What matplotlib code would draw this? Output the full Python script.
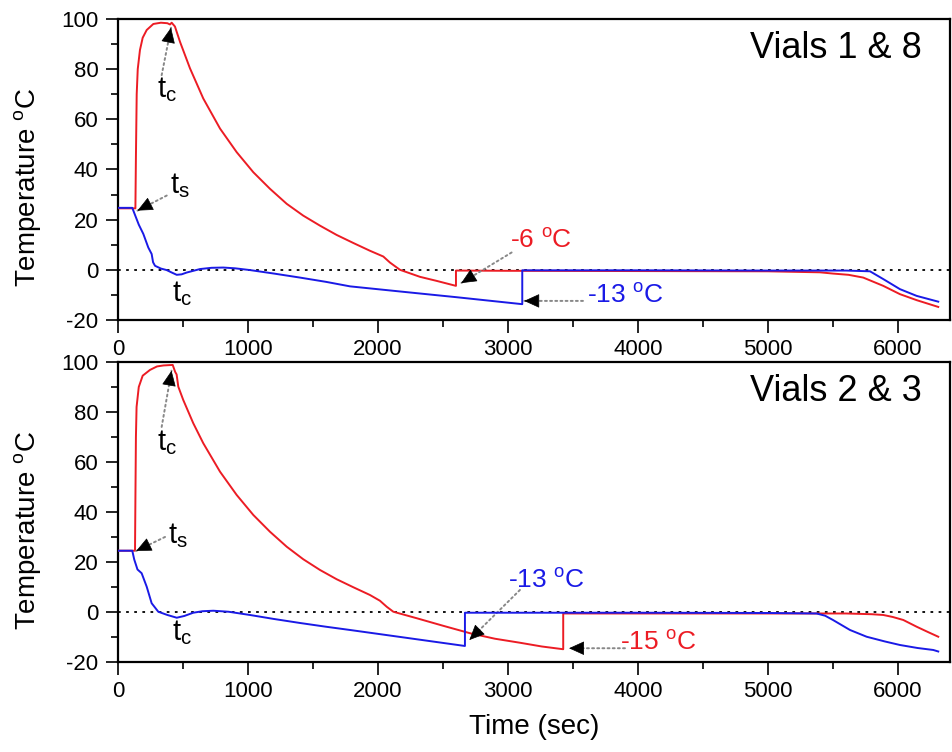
import matplotlib
matplotlib.use("Agg")
import numpy as np
import matplotlib.pyplot as plt
from matplotlib.ticker import MultipleLocator

plt.rcParams['font.family'] = ['Liberation Sans', 'DejaVu Sans']
plt.rcParams['axes.unicode_minus'] = False

# Vials 1 & 8
t_red_a = [0, 134, 138, 144, 152, 169, 190, 221, 272, 330, 380, 400, 413, 438, 477, 554, 656,
           785, 913, 1041, 1169, 1298, 1425, 1554, 1682, 1810, 1938, 2041, 2092, 2169, 2323,
           2450, 2600, 2600, 3000, 4000, 5000, 5400, 5500, 5620, 5733, 5887, 6015, 6144, 6310]
T_red_a = [24.5, 24.5, 45, 70, 80, 87.6, 92.5, 95.6, 98, 98.5, 98.3, 97.8, 98.5, 97, 90.9, 80.3, 68.3,
           56.3, 46.9, 38.9, 32.3, 26.3, 21.6, 17.6, 13.9, 10.7, 7.6, 5.3, 2.9, 0, -2.8,
           -4.4, -6.4, -0.3, -0.4, -0.5, -0.6, -1.0, -1.5, -2.0, -3.1, -6.4, -9.7, -12.1, -14.8]
t_blue_a = [0, 110, 130, 160, 195, 233, 259, 270, 285, 330, 374, 410, 452, 490, 528, 631, 720,
            810, 900, 1015, 1200, 1400, 1600, 1785, 2200, 2600, 3110, 3110, 4000, 5000, 5600,
            5785, 5887, 6015, 6144, 6310]
T_blue_a = [24.7, 24.7, 22, 18, 14.3, 8.9, 6.3, 3, 1.6, 0.5, -0.1, -1, -2, -1.8, -1.1, 0.3, 0.8,
            0.9, 0.6, -0.1, -1.5, -3.1, -4.8, -6.6, -8.8, -10.9, -13.7, -0.2, -0.2, -0.3, -0.3,
            -0.6, -3.7, -7.7, -10.4, -12.7]

# Vials 2 & 3
t_red_b = [0, 131, 134, 138, 143, 160, 190, 246, 300, 350, 421, 440, 451, 464, 502, 579, 656,
           785, 913, 1041, 1169, 1298, 1425, 1554, 1682, 1810, 1938, 2015, 2067, 2118, 2298,
           2500, 2708, 2900, 3092, 3260, 3425, 3425, 4000, 5000, 5600, 5800, 5887, 5960, 6041,
           6144, 6230, 6310]
T_red_b = [24.5, 24.5, 45, 70, 82, 90, 94.5, 96.8, 98.2, 98.6, 98.8, 96, 95, 90.1, 84.8, 75.5, 67.5,
           56.1, 46.8, 38.8, 32.1, 26.1, 21.1, 16.8, 13.1, 9.9, 6.8, 4.5, 2.1, 0.1, -2.5,
           -5.5, -8.5, -10.7, -12.3, -13.8, -14.9, -0.6, -0.6, -0.6, -0.6, -0.9, -1.2, -2, -3.2,
           -5.9, -8, -9.9]
t_blue_b = [0, 110, 125, 150, 182, 221, 259, 310, 380, 452, 510, 579, 650, 733, 850, 1015, 1200,
            1400, 1600, 1785, 2200, 2669, 2669, 4000, 5000, 5374, 5440, 5500, 5631, 5759, 5900,
            6015, 6150, 6272, 6310]
T_blue_b = [24.5, 24.5, 21, 17, 15.5, 10.1, 3.5, 0.1, -1.2, -2.3, -1.6, -0.3, 0.3, 0.5, 0.1, -1.2, -2.8,
            -4.4, -5.9, -7.2, -10.2, -13.6, -0.3, -0.3, -0.4, -0.6, -1.5, -3.2, -7.2, -9.9, -11.8,
            -13.2, -14.4, -15.2, -15.8]

RED = '#ec1c24'
BLUE = '#1a1ae6'
deg = r'$\mathregular{^o}$C'

fig = plt.figure(figsize=(9.53, 7.52), dpi=100)
ax1 = fig.add_axes([0.1238, 0.5745, 0.873, 0.4003])
ax2 = fig.add_axes([0.1238, 0.1197, 0.873, 0.399])


def style(ax):
    ax.set_xlim(0, 6400)
    ax.set_ylim(-20, 100)
    ax.xaxis.set_major_locator(MultipleLocator(1000))
    ax.xaxis.set_minor_locator(MultipleLocator(500))
    ax.yaxis.set_major_locator(MultipleLocator(20))
    ax.yaxis.set_minor_locator(MultipleLocator(10))
    ax.tick_params(which='both', direction='out', top=False, right=False,
                   width=1.2, labelsize=16, pad=5)
    ax.tick_params(which='major', length=9)
    ax.tick_params(which='minor', length=5)
    for s in ax.spines.values():
        s.set_linewidth(1.6)
    ax.axhline(0, color='black', ls=(0, (1.5, 3)), lw=1.3, zorder=1)
    ax.set_ylabel('Temperature ' + deg, fontsize=20)
    ax.yaxis.set_label_coords(-0.09, 0.44)


def arrow(ax, head, tail):
    # dotted grey shaft
    ax.annotate('', xy=head, xytext=tail,
                arrowprops=dict(arrowstyle='-', linestyle=':', lw=1.4,
                                color='#888888', shrinkA=0, shrinkB=0))
    # solid black head
    p_head = ax.transData.transform(head)
    p_tail = ax.transData.transform(tail)
    u = (p_tail - p_head) / np.hypot(*(p_tail - p_head))
    base = ax.transData.inverted().transform(p_head + 13 * u)
    ax.annotate('', xy=head, xytext=tuple(base),
                arrowprops=dict(arrowstyle='-|>,head_length=0.55,head_width=0.25',
                                color='black', lw=0.5, mutation_scale=18,
                                shrinkA=0, shrinkB=0))


for ax in (ax1, ax2):
    style(ax)

ax1.plot(t_red_a, T_red_a, color=RED, lw=1.4, zorder=3)
ax1.plot(t_blue_a, T_blue_a, color=BLUE, lw=1.4, zorder=4)
ax2.plot(t_red_b, T_red_b, color=RED, lw=1.4, zorder=3)
ax2.plot(t_blue_b, T_blue_b, color=BLUE, lw=1.4, zorder=4)

tc = r'$\mathregular{t_c}$'
ts = r'$\mathregular{t_s}$'

# top panel labels
ax1.text(6185, 84.4, 'Vials 1 & 8', fontsize=26, ha='right', va='baseline')
ax1.text(300, 68.8, tc, fontsize=21, va='baseline')
arrow(ax1, (408, 96.5), (336, 77.6))
ax1.text(400, 30.4, ts, fontsize=21, va='baseline')
arrow(ax1, (150, 23.6), (375, 29.6))
ax1.text(415, -12.4, tc, fontsize=21, va='baseline')
ax1.text(3015, 8.8, '-6 ' + deg, fontsize=19, color=RED, va='baseline')
arrow(ax1, (2640, -5.3), (3028, 6.9))
ax1.text(3608, -13.2, '-13 ' + deg, fontsize=19, color=BLUE, va='baseline')
arrow(ax1, (3125, -12.4), (3577, -12.4))

# bottom panel labels
ax2.text(6185, 84.4, 'Vials 2 & 3', fontsize=26, ha='right', va='baseline')
ax2.text(300, 64.8, tc, fontsize=21, va='baseline')
arrow(ax2, (412, 96.5), (336, 74))
ax2.text(385, 27.6, ts, fontsize=21, va='baseline')
arrow(ax2, (140, 24.4), (362, 30))
ax2.text(415, -11.2, tc, fontsize=21, va='baseline')
ax2.text(3000, 9.6, '-13 ' + deg, fontsize=19, color=BLUE, va='baseline')
arrow(ax2, (2703, -11.2), (3092, 8.8))
ax2.text(3862, -15.2, '-15 ' + deg, fontsize=19, color=RED, va='baseline')
arrow(ax2, (3470, -14.5), (3900, -14.5))

ax2.set_xlabel('Time (sec)', fontsize=20, labelpad=8)

fig.savefig('out.png', dpi=100)
